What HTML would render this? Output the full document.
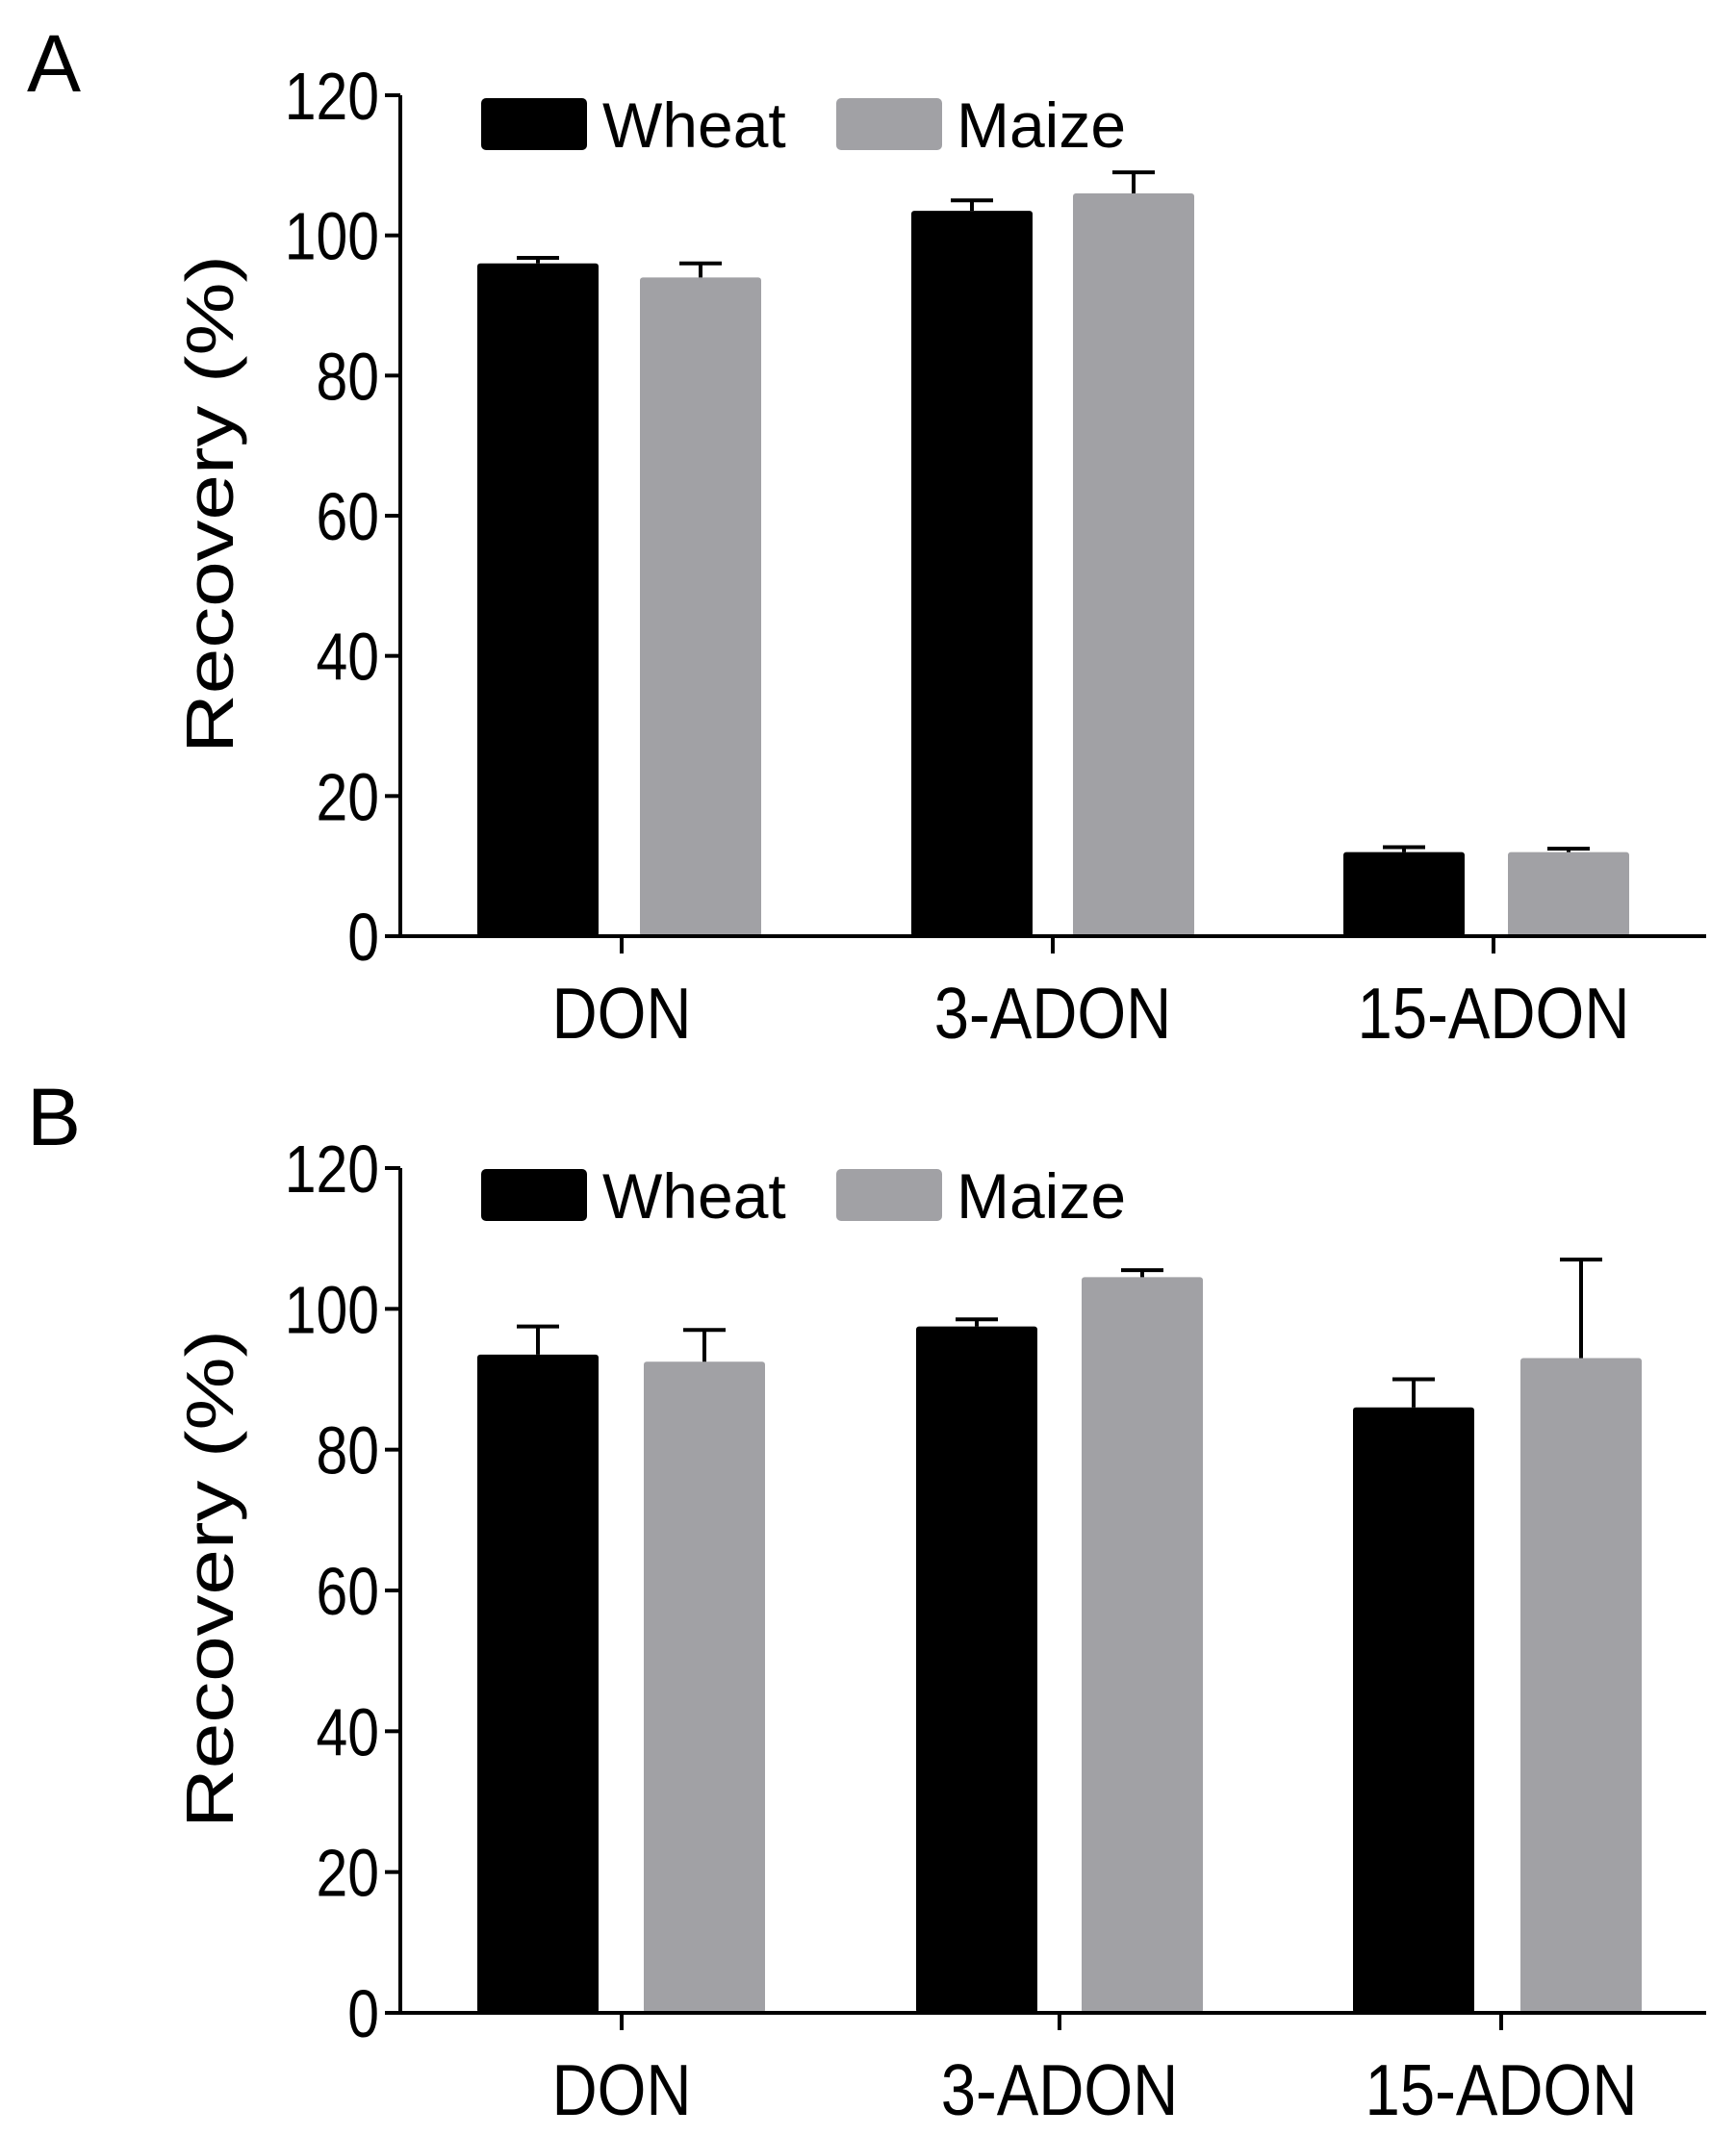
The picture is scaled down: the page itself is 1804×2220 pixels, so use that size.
<!DOCTYPE html>
<html><head><meta charset="utf-8"><style>
html,body{margin:0;padding:0;background:#fff;}
svg{display:block;font-family:"Liberation Sans",sans-serif;}
</style></head><body>
<svg id="chart" width="1804" height="2220" viewBox="0 0 1804 2220" xmlns="http://www.w3.org/2000/svg"></svg>
<script>
const categories = ["DON", "3-ADON", "15-ADON"];
const series = ["Wheat", "Maize"];
const wheatA = [96, 103.5, 12];
const wheatErrA = [0.8, 1.5, 0.7];
const maizeA = [94, 106, 12];
const maizeErrA = [2, 3, 0.5];
const wheatB = [93.5, 97.5, 86];
const wheatErrB = [4, 1, 4];
const maizeB = [92.5, 104.5, 93];
const maizeErrB = [4.5, 1, 14];
const yTicks = [0, 20, 40, 60, 80, 100, 120];

const NS = "http://www.w3.org/2000/svg";
const svg = document.getElementById("chart");
function mk(tag, attrs, parent) {
  const e = document.createElementNS(NS, tag);
  for (const k in attrs) e.setAttribute(k, attrs[k]);
  (parent || svg).appendChild(e);
  return e;
}
const colors = ["#000000", "#a1a1a5"];

function panel(letter, letterY, top, bottom, wheat, wErr, maize, mErr, tickXs, barXs, legendY, titleOff) {
  const g = mk("g", {});
  
  
  const y = v => bottom - (v / 120) * (bottom - top);
  const axL = 416, axR = 1773;
  const lt = mk("text", {x: 28, y: letterY, "font-size": 84}, g);
  lt.textContent = letter;
  
  
  const vals = [wheat, maize], errs = [wErr, mErr];
  for (let s = 0; s < 2; s++) {
    for (let i = 0; i < categories.length; i++) {
      const x0 = barXs[i][s];
      const v = vals[s][i], e = errs[s][i];
      const r = mk("rect", {x: x0, y: y(v), width: 126, height: bottom - y(v), fill: colors[s], rx: 3}, g);
      
      
      const cx = x0 + 63;
      const eb = mk("path", {d: `M${cx},${y(v)} V${y(v + e)} M${cx - 22},${y(v + e)} H${cx + 22}`, stroke: "#000", "stroke-width": 4, fill: "none"}, g);
      
      
    }
  }
  const ya = mk("line", {x1: axL, y1: top, x2: axL, y2: bottom + 2, stroke: "#000", "stroke-width": 4}, g);
  
  
  const xa = mk("line", {x1: axL - 2, y1: bottom, x2: axR, y2: bottom, stroke: "#000", "stroke-width": 4}, g);
  
  
  yTicks.forEach(t => {
    mk("line", {x1: axL - 16, y1: y(t), x2: axL, y2: y(t), stroke: "#000", "stroke-width": 4}, g);
    const tx = mk("text", {x: 0, y: 0, "font-size": 62, "text-anchor": "end", transform: `translate(${axL - 22},${y(t) + 25}) scale(0.95,1.12)`}, g);
    tx.textContent = t;
    
    
  });
  categories.forEach((c, i) => {
    mk("line", {x1: tickXs[i], y1: bottom, x2: tickXs[i], y2: bottom + 18, stroke: "#000", "stroke-width": 4}, g);
    const tx = mk("text", {x: 0, y: 0, "font-size": 64, "text-anchor": "middle", transform: `translate(${tickXs[i]},${bottom + 106}) scale(1.02,1.18)`}, g);
    tx.textContent = c;
    
    
  });
  const yt = mk("text", {x: 0, y: 0, "font-size": 70, "text-anchor": "middle", transform: `translate(242,${(top + bottom) / 2 + titleOff}) rotate(-90)`, textLength: 518, lengthAdjust: "spacingAndGlyphs"}, g);
  yt.textContent = "Recovery (%)";
  
  
  const lgX = [[500, 626], [869, 994]];
  series.forEach((s, i) => {
    const sw = mk("rect", {x: lgX[i][0], y: legendY, width: 110, height: 54, fill: colors[i], rx: 5}, g);
    
    
    const lt2 = mk("text", {x: lgX[i][1], y: legendY + 51, "font-size": 66}, g);
    lt2.textContent = s;
    
    
  });
}
panel("A", 95, 99, 973, wheatA, wheatErrA, maizeA, maizeErrA, [646, 1094, 1552],
  [[496, 665], [947, 1115], [1396, 1567]], 102, -12);
panel("B", 1190, 1214, 2092, wheatB, wheatErrB, maizeB, maizeErrB, [646, 1101, 1560],
  [[496, 669], [952, 1124], [1406, 1580]], 1215, -12);
</script>
</body></html>
